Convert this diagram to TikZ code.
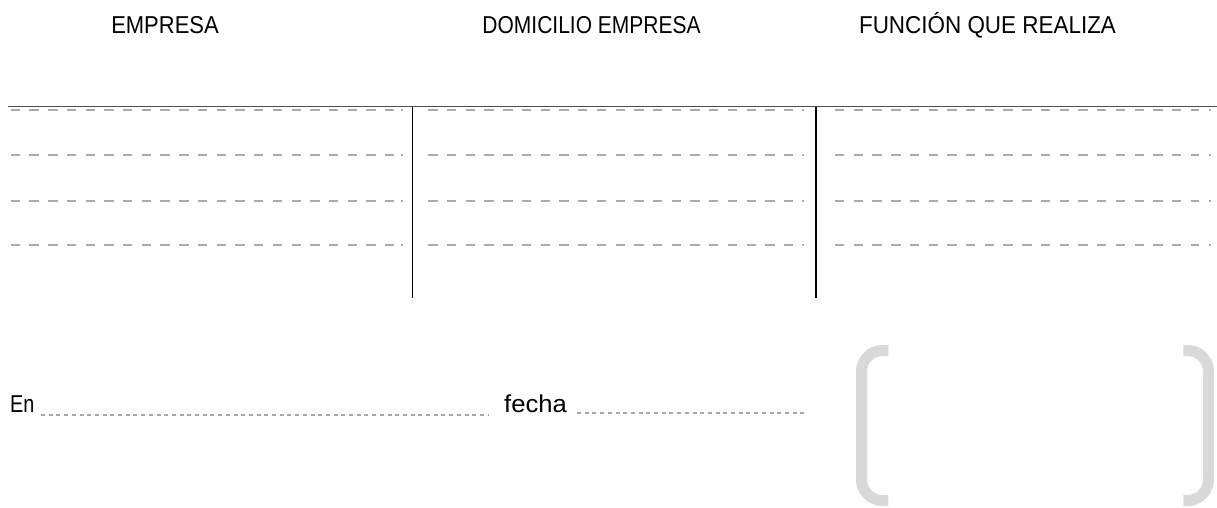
\documentclass[tikz,border=0pt]{standalone}
\usepackage{fontspec}
\setmainfont{Liberation Sans}
\usepackage{graphicx}
\definecolor{rowgray}{HTML}{ABABAB}
\definecolor{rulegray}{HTML}{505050}
\definecolor{dotgray}{HTML}{A8A8A8}
\definecolor{brackgray}{HTML}{D9D9D9}
\newcommand{\sx}[2]{\scalebox{#1}[1]{#2}}
\tikzset{
  hdr/.style={inner sep=0pt, anchor=base, font=\fontsize{24.4}{28}\selectfont, text=black},
  lbl/.style={inner sep=0pt, anchor=base west, font=\fontsize{24.4}{28}\selectfont, text=black},
  rowdash/.style={draw=rowgray, line width=2pt, dash pattern=on 9.36pt off 9.36pt},
  rowdot/.style={draw=rowgray, line width=2pt},
  toprule/.style={draw=rulegray, line width=1.3pt},
  colrule/.style={draw=black, line width=1.4pt},
  fillline/.style={draw=dotgray, line width=1.3pt, dash pattern=on 4pt off 3.7pt},
  bracket/.style={draw=brackgray, line width=11pt, rounded corners=21pt}
}
\begin{document}
\begin{tikzpicture}[x=1pt, y=-1pt]
\useasboundingbox (0,0) rectangle (1217,507);
% headers
\node[hdr] (h1) at (165,33) {\sx{0.90}{EMPRESA}};
\node[hdr] (h2) at (591.5,33) {\sx{0.86}{DOMICILIO EMPRESA}};
\node[hdr] (h3) at (987.5,33) {\sx{0.92}{FUNCIÓN QUE REALIZA}};
% table coordinates
\coordinate (tl) at (8,106.7);
\coordinate (tr) at (1217,106.7);
\coordinate (v1t) at (412.3,106.7);
\coordinate (v1b) at (412.3,298);
\coordinate (v2t) at (816,106.7);
\coordinate (v2b) at (816,298);
% dashed rows
\foreach \y in {110,155,200.7,245.3}{
  \draw[rowdash] (10.7,\y) -- (394.5,\y);
  \draw[rowdot] (400.7,\y) -- (402.7,\y);
  \draw[rowdash] (428.3,\y) -- (792.7,\y);
  \draw[rowdot] (802.3,\y) -- (804.3,\y);
  \draw[rowdash] (835,\y) -- (1199.4,\y);
  \draw[rowdot] (1209,\y) -- (1211,\y);
}
\draw[toprule] (tl) -- (tr);
\draw[colrule] (v1t) -- (v1b);
\draw[colrule] (v2t) -- (v2b);
% bottom line
\node[lbl] (en) at (10,412) {\sx{0.81}{En}};
\coordinate (l1a) at (41,415);
\coordinate (l1b) at (489,415);
\draw[fillline] (l1a) -- (l1b);
\node[lbl] (fe) at (504,412) {\sx{1.05}{fecha}};
\coordinate (l2a) at (577,413);
\coordinate (l2b) at (806,413);
\draw[fillline] (l2a) -- (l2b);
% brackets
\draw[bracket] (888.3,350.5) -- (861.5,350.5) -- (861.5,500.5) -- (888.3,500.5);
\draw[bracket] (1183.3,350.5) -- (1208.5,350.5) -- (1208.5,500.5) -- (1183.3,500.5);
\end{tikzpicture}
\end{document}
